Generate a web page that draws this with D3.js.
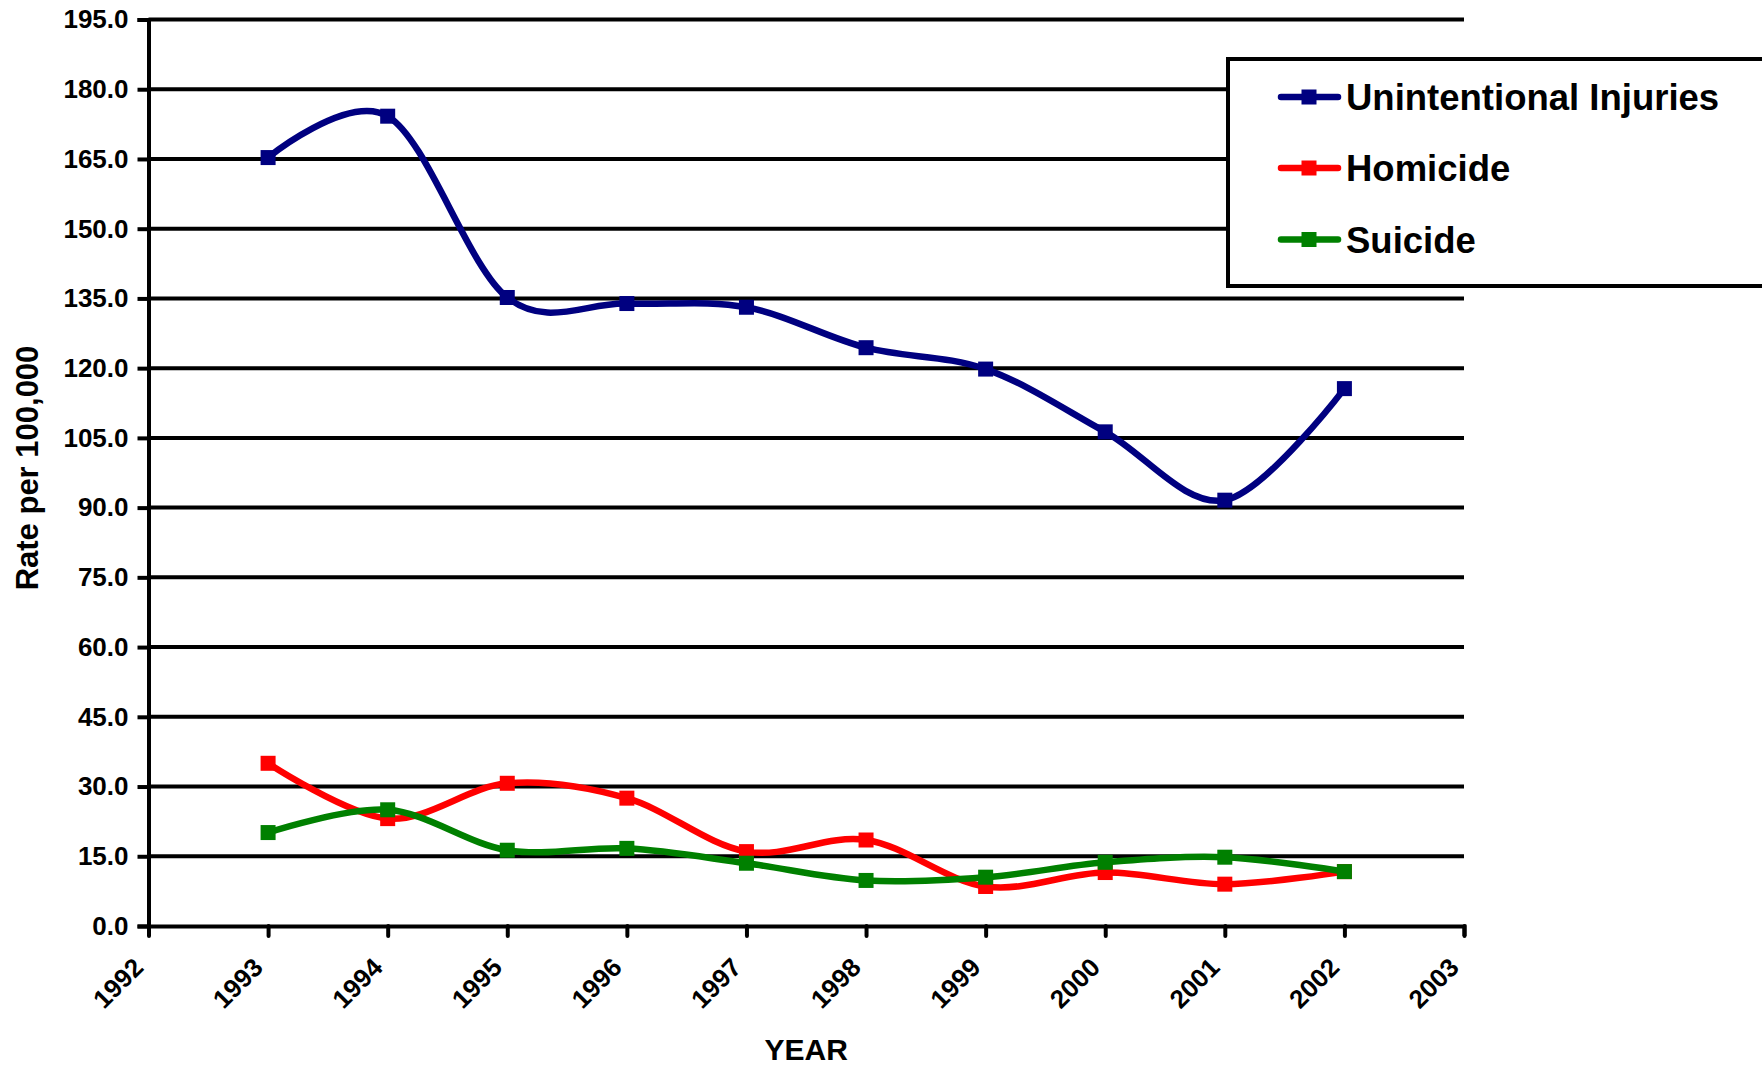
<!DOCTYPE html>
<html>
<head>
<meta charset="utf-8">
<script src="https://cdn.jsdelivr.net/npm/d3@7"></script>
<style>
    body { margin: 0; background: #fff; }
    text { font-family: "Liberation Sans", Arial, sans-serif; font-weight: bold; fill: #000; }
</style>
</head>
<body>
<div class="linechart"></div>
<script>
// chart data
const years = [1993, 1994, 1995, 1996, 1997, 1998, 1999, 2000, 2001, 2002];
const unintentional = [165.3, 174.2, 135.2, 133.9, 133.1, 124.4, 119.8, 106.3, 91.6, 115.6];
const homicide = [35.0, 23.1, 30.7, 27.5, 16.0, 18.5, 8.5, 11.5, 9.0, 11.7];
const suicide = [20.1, 25.0, 16.3, 16.7, 13.5, 9.8, 10.5, 13.7, 14.8, 11.7];
const seriesNames = ["Unintentional Injuries", "Homicide", "Suicide"];
const seriesColors = ["#000080", "#ff0000", "#008000"];
const xTickYears = [1992, 1993, 1994, 1995, 1996, 1997, 1998, 1999, 2000, 2001, 2002, 2003];
const yTickValues = [0, 15, 30, 45, 60, 75, 90, 105, 120, 135, 150, 165, 180, 195];

const W = 1762, H = 1066;
const plot = {left: 148.5, right: 1464, top: 19.5, bottom: 926};
const markerSize = 15;
const lineWidth = 6.5;

let svg = d3.select('.linechart')
            .append('svg')
            .attr('width', W)
            .attr('height', H);

let xScale = d3.scaleLinear().domain([1992, 2003]).range([plot.left, plot.right]);
let yScale = d3.scaleLinear().domain([0, 195]).range([plot.bottom, plot.top]);

// horizontal gridlines
svg.append("g")
    .selectAll("line")
    .data(yTickValues.slice(1))
    .enter()
    .append("line")
    .attr("x1", plot.left)
    .attr("x2", plot.right)
    .attr("y1", d => yScale(d))
    .attr("y2", d => yScale(d))
    .attr("stroke", "#000")
    .attr("stroke-width", 4);

// Y axis
let yAxis = svg.append("g")
    .attr("transform", "translate(" + plot.left + ",0)")
    .call(d3.axisLeft(yScale).tickValues(yTickValues).tickFormat(d3.format(".1f")).tickSize(11).tickPadding(9));
yAxis.select(".domain").attr("stroke-width", 4);
yAxis.selectAll(".tick line").attr("stroke-width", 4);
yAxis.selectAll("text").style("font-size", "26px").attr("fill", "#000");

// X axis
let xAxis = svg.append("g")
    .attr("transform", "translate(0," + plot.bottom + ")")
    .call(d3.axisBottom(xScale).tickValues(xTickYears).tickFormat(d3.format("d")).tickSize(10));
xAxis.select(".domain").attr("stroke-width", 4);
xAxis.selectAll(".tick line").attr("stroke-width", 4).attr("stroke-linecap", "round");
xAxis.selectAll("text")
    .style("font-size", "26px")
    .attr("fill", "#000")
    .attr("text-anchor", "end")
    .attr("y", 0)
    .attr("dy", 0)
    .attr("transform", "translate(-4,43) rotate(-45)");

// axis titles
svg.append("text")
    .attr("x", (plot.left + plot.right) / 2)
    .attr("y", 1060)
    .attr("text-anchor", "middle")
    .style("font-size", "30px")
    .text("YEAR");

svg.append("text")
    .attr("transform", "translate(38,468) rotate(-90)")
    .attr("text-anchor", "middle")
    .style("font-size", "31px")
    .text("Rate per 100,000");

// lines and markers
const allSeries = [unintentional, homicide, suicide];
let line = d3.line()
    .x((d, i) => xScale(years[i]))
    .y(d => yScale(d))
    .curve(d3.curveCardinal.tension(0));

allSeries.forEach(function(values, s){
    svg.append("path")
        .datum(values)
        .attr("d", line)
        .attr("fill", "none")
        .attr("stroke", seriesColors[s])
        .attr("stroke-width", lineWidth)
        .attr("stroke-linejoin", "round");
    svg.append("g")
        .selectAll("rect")
        .data(values)
        .enter()
        .append("rect")
        .attr("x", (d, i) => xScale(years[i]) - markerSize / 2)
        .attr("y", d => yScale(d) - markerSize / 2)
        .attr("width", markerSize)
        .attr("height", markerSize)
        .attr("fill", seriesColors[s]);
});

// legend
let legend = svg.append("g");
legend.append("rect")
    .attr("x", 1228)
    .attr("y", 59)
    .attr("width", 600)
    .attr("height", 227)
    .attr("fill", "#fff")
    .attr("stroke", "#000")
    .attr("stroke-width", 4);

const rowY = [97, 168, 239.5];
seriesNames.forEach(function(name, s){
    legend.append("line")
        .attr("x1", 1281)
        .attr("x2", 1338)
        .attr("y1", rowY[s])
        .attr("y2", rowY[s])
        .attr("stroke", seriesColors[s])
        .attr("stroke-width", lineWidth)
        .attr("stroke-linecap", "round");
    legend.append("rect")
        .attr("x", 1309 - markerSize / 2)
        .attr("y", rowY[s] - markerSize / 2)
        .attr("width", markerSize)
        .attr("height", markerSize)
        .attr("fill", seriesColors[s]);
    legend.append("text")
        .attr("x", 1346)
        .attr("y", rowY[s] + 13)
        .style("font-size", "36.5px")
        .text(name);
});
</script>
</body>
</html>
